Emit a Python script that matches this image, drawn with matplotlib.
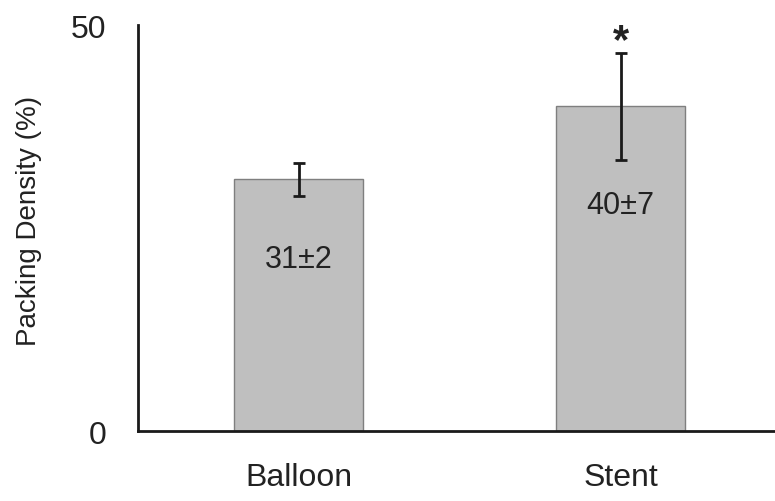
import matplotlib.pyplot as plt

categories = ['Balloon', 'Stent']
means = [31, 40]
errors = [2, 6.6]
value_labels = ['31±2', '40±7']
label_y = [21.2, 27.8]
star_y = 48.0

plt.rcParams['font.family'] = ['Liberation Sans', 'DejaVu Sans']

fig = plt.figure(figsize=(7.75, 5.02), dpi=100)
ax = fig.add_axes([0.178, 0.139, 0.822, 0.809])

x = range(len(categories))
ax.bar(x, means, width=0.4, color='#bfbfbf', edgecolor='#7f7f7f', linewidth=1, zorder=2)
ax.errorbar(x, means, yerr=errors, fmt='none', ecolor='#1a1a1a', elinewidth=2,
            capsize=4.5, capthick=2, zorder=3)

for xi, lab, ly in zip(x, value_labels, label_y):
    ax.text(xi, ly, lab, ha='center', va='center', fontsize=22, color='#222222')
ax.text(1, star_y, '*', ha='center', va='center', fontsize=30, fontweight='bold',
        color='#222222')

ax.set_xlim(-0.5, 1.48)
ax.set_ylim(0, 50)
ax.set_yticks([0, 50])
ax.set_xticks(list(x))
ax.set_xticklabels(categories)
ax.tick_params(axis='both', length=0, labelsize=23, colors='#222222')
ax.tick_params(axis='y', pad=23)
ax.tick_params(axis='x', pad=22)
ax.set_ylabel('Packing Density (%)', fontsize=20, color='#222222')
ax.yaxis.set_label_coords(-0.15, 0.52)

for side in ['top', 'right']:
    ax.spines[side].set_visible(False)
for side in ['left', 'bottom']:
    ax.spines[side].set_linewidth(2)
    ax.spines[side].set_color('#1a1a1a')

fig.savefig('out.png', dpi=100)
